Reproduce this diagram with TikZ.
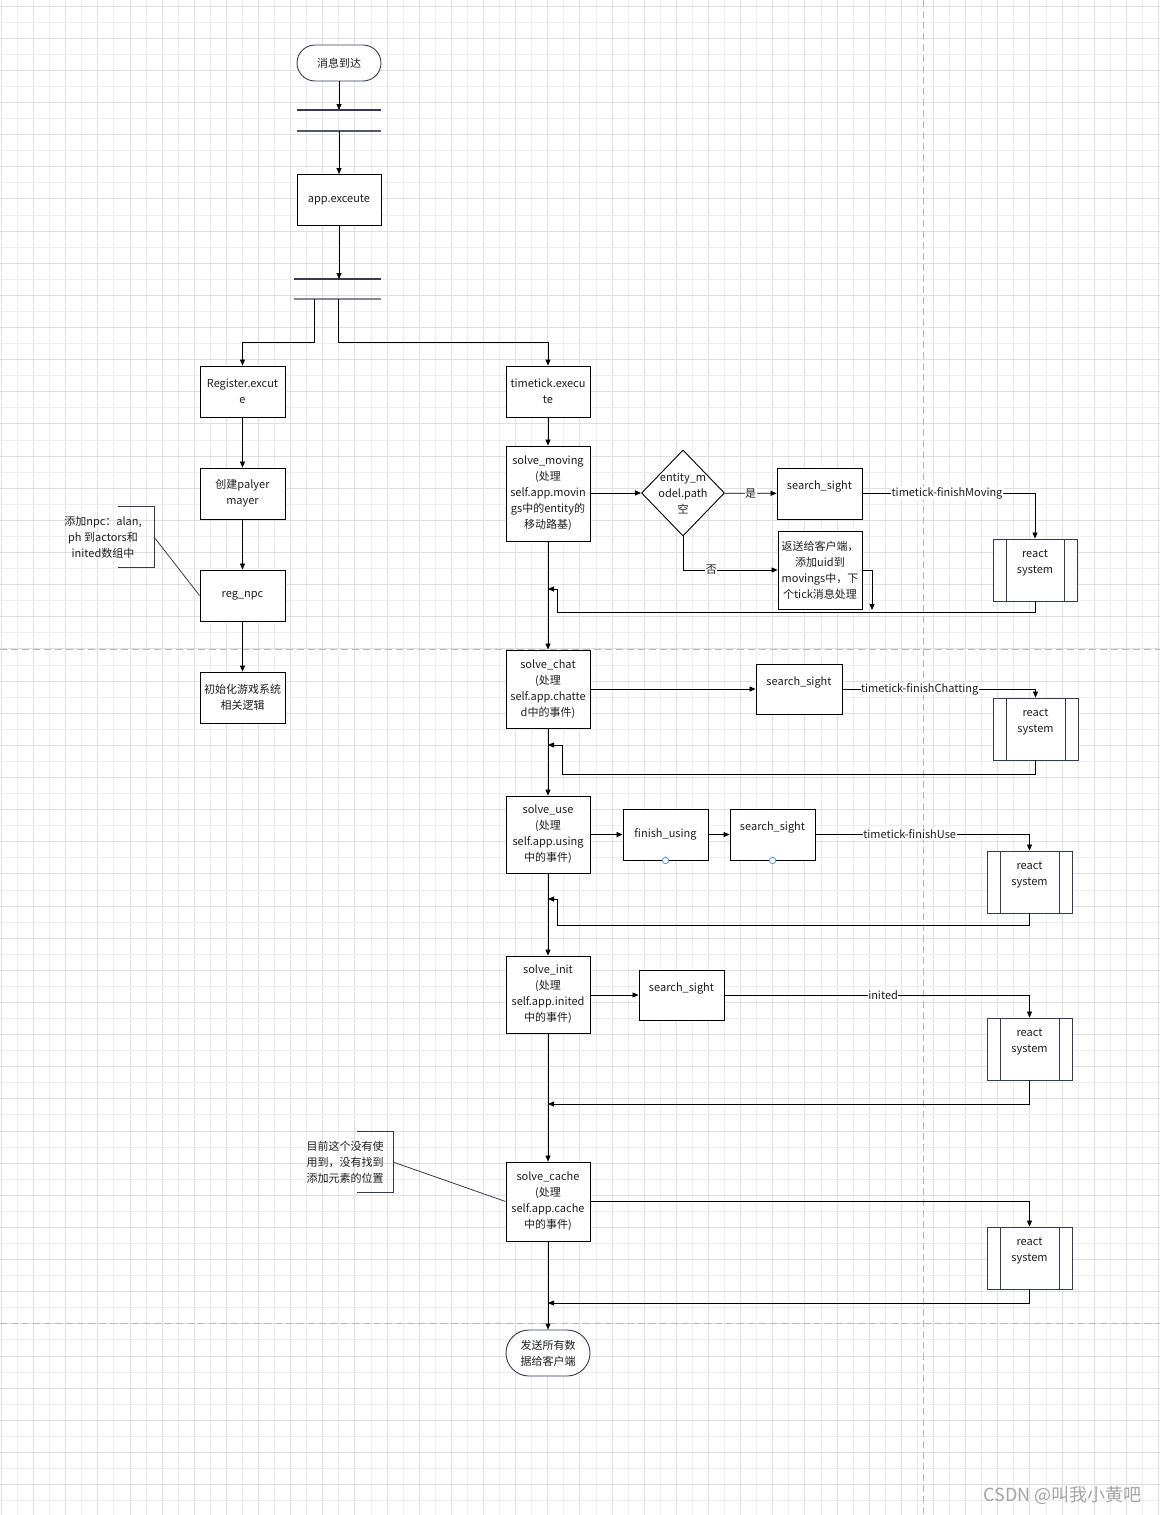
\documentclass[tikz,border=0pt]{standalone}
\usepackage{fontspec}
\setmainfont{Noto Sans CJK SC}
\usetikzlibrary{positioning,arrows.meta,shapes.geometric}
\definecolor{flownavy}{RGB}{52,58,86}
\definecolor{flowtext}{RGB}{30,30,30}
\definecolor{flowgridmajor}{RGB}{224,224,224}
\definecolor{flowgridminor}{RGB}{238,238,238}
\definecolor{flowdash}{RGB}{185,185,185}
\definecolor{flowpin}{RGB}{100,155,215}
\definecolor{flowmark}{RGB}{165,165,165}

\begin{document}
\begin{tikzpicture}[x=1pt,y=-1pt,
  font=\fontsize{11}{16}\selectfont,text=flowtext,
  procbox/.style={draw=black,line width=0.9pt,fill=white,minimum width=85pt,minimum height=51pt,align=center,inner sep=1pt},
  termbox/.style={draw=flownavy,line width=0.9pt,fill=white,minimum width=84pt,align=center,inner sep=1pt},
  decision/.style={diamond,draw=black,line width=0.9pt,fill=white,minimum width=83pt,minimum height=86pt,inner sep=0pt},
  reactbox/.style={draw=flownavy,line width=0.9pt,fill=white,minimum width=85pt,minimum height=62pt,align=center,inner sep=1pt,
    path picture={\draw[flownavy,line width=0.9pt]
      ([xshift=13pt]path picture bounding box.north west) -- ([xshift=13pt]path picture bounding box.south west)
      ([xshift=-13pt]path picture bounding box.north east) -- ([xshift=-13pt]path picture bounding box.south east);}},
  flowarrow/.style={draw=black,line width=0.8pt,-{Triangle[length=6pt,width=5pt]}},
  flowline/.style={draw=black,line width=0.8pt},
  noteline/.style={draw=flownavy,line width=1pt},
  barline/.style={draw=flownavy,line width=1.5pt},
  edgetext/.style={fill=white,inner sep=0.5pt},
  portdot/.style={circle,draw=flowpin,fill=white,line width=0.9pt,minimum size=6.5pt,inner sep=0pt},
  gridmajor/.style={draw=flowgridmajor,line width=0.7pt},
  gridminor/.style={draw=flowgridminor,line width=0.7pt},
  pagebreak/.style={draw=flowdash,line width=1pt,dash pattern=on 7pt off 4pt}
]
% canvas and grid
\fill[white] (0,0) rectangle (1160,1515);
\useasboundingbox (0,0) rectangle (1160,1515);
\foreach \i in {0,...,36} {
  \draw[gridminor] ({17.37+32.14*\i},0) -- ({17.37+32.14*\i},1515);
  \draw[gridmajor] ({1.3+32.14*\i},0) -- ({1.3+32.14*\i},1515);
}
\foreach \i in {0,...,47} {
  \draw[gridminor] (0,{22.07+32.14*\i}) -- (1160,{22.07+32.14*\i});
  \draw[gridmajor] (0,{6+32.14*\i}) -- (1160,{6+32.14*\i});
}
% page breaks
\draw[pagebreak] (923,0) -- (923,1515);
\draw[pagebreak] (0,649) -- (1160,649);
\draw[pagebreak] (0,1323) -- (1160,1323);

% top: start, bars, app
\node[termbox,minimum height=36pt,rounded corners=18pt] (start) at (339,63) {消息到达};
\coordinate (bar1a) at (339,110);
\coordinate (bar1b) at (339,131);
\draw[barline] ([xshift=-42pt]bar1a) -- ([xshift=42pt]bar1a);
\draw[barline,draw=flownavy!85] ([xshift=-42pt]bar1b) -- ([xshift=42pt]bar1b);
\node[procbox,minimum width=84pt] (app) at (339,200) {app.exceute};
\coordinate (bar2a) at (337.5,279);
\coordinate (bar2b) at (337.5,299);
\draw[barline] ([xshift=-43.5pt]bar2a) -- ([xshift=43.5pt]bar2a);
\draw[barline,draw=flownavy!60] ([xshift=-43.5pt]bar2b) -- ([xshift=43.5pt]bar2b);
\coordinate (fork1) at (314,299);
\coordinate (fork2) at (338,299);
\draw[flowarrow] (start) -- (bar1a);
\draw[flowarrow] (bar1b) -- (app);
\draw[flowarrow] (app) -- (app |- bar2a);

% left branch
\node[procbox] (register) at (242.5,391.5) {Register.excut\\e};
\node[procbox] (player) at (242.5,493.5) {创建palyer\\mayer};
\node[procbox] (regnpc) at (242.5,595.5) {reg\_npc};
\node[procbox] (initsys) at (242.5,697.5) {初始化游戏系统\\相关逻辑};
\draw[flowarrow] (fork1) -- ++(0,43) -| (register.north);
\draw[flowarrow] (register) -- (player);
\draw[flowarrow] (player) -- (regnpc);
\draw[flowarrow] (regnpc) -- (initsys);
% note on reg_npc
\node[align=center] (note1) at (103,537) {添加npc：alan,\\ph 到actors和\\inited数组中};
\coordinate (note1tip) at (154,537);
\draw[noteline] (118,506) -- (154,506) -- (154,567) -- (118,567);
\draw[noteline,line width=0.8pt] (note1tip) -- (regnpc.west);

% right branch: main column
\node[procbox,minimum width=84pt] (timetick) at (548,391.5) {timetick.execu\\te};
\node[procbox,minimum width=84pt,minimum height=95pt] (moving) at (548,493.5) {solve\_moving\\(处理\\self.app.movin\\gs中的entity的\\移动路基)};
\node[procbox,minimum width=84pt,minimum height=78pt] (chat) at (548,689) {solve\_chat\\(处理\\self.app.chatte\\d中的事件)};
\node[procbox,minimum width=84pt,minimum height=77pt] (use) at (548,834.5) {solve\_use\\(处理\\self.app.using\\中的事件)};
\node[procbox,minimum width=84pt,minimum height=77pt] (init) at (548,994.5) {solve\_init\\(处理\\self.app.inited\\中的事件)};
\node[procbox,minimum width=84pt,minimum height=79pt] (cache) at (548,1201.5) {solve\_cache\\(处理\\self.app.cache\\中的事件)};
\node[termbox,minimum height=46pt,rounded corners=23pt] (finish) at (548,1353) {发送所有数\\据给客户端};
\draw[flowarrow] (fork2) -- ++(0,43) -| (timetick.north);
\draw[flowarrow] (timetick) -- (moving);
\draw[flowarrow] (moving) -- (chat);
\draw[flowarrow] (chat) -- (use);
\draw[flowarrow] (use) -- (init);
\draw[flowarrow] (init) -- (cache);
\draw[flowarrow] (cache) -- (finish);

% solve_moving row
\node[decision] (judge) at (683,493) {\makebox[0pt]{\smash{\raisebox{-4pt}{\begin{tabular}{@{}c@{}}entity\_m\\odel.path\\空\end{tabular}}}}};
\node[procbox] (sight1) at (819.5,493.5) {search\_sight\\\mbox{}};
\node[procbox,minimum width=84pt,minimum height=78pt] (resend) at (820,570) {返送给客户端，\\添加uid到\\movings中，下\\个tick消息处理};
\node[reactbox,minimum width=84pt] (react1) at (1035,570) {react\\system\\\mbox{}};
\draw[flowarrow] (moving.east |- judge) -- (judge);
\draw[flowarrow] (judge) -- node[edgetext] {是} (sight1);
\draw[flowarrow] (judge.south) |- node[edgetext,pos=0.65] {否} (resend.west);
\draw[flowarrow] (sight1.east) -| node[edgetext,pos=0.245] {timetick-finishMoving} (react1.north);
\coordinate (drop1) at (872,610);
\coordinate (back1) at (548,589);
\draw[flowarrow] (resend.east) -| (drop1);
\draw[flowarrow] (react1.south) |- (557,612) |- (back1);

% solve_chat row
\node[procbox,minimum width=86pt,minimum height=50pt] (sight2) at (799,689) {search\_sight\\\mbox{}};
\node[reactbox] (react2) at (1035.5,729) {react\\system\\\mbox{}};
\coordinate (back2) at (548,745);
\draw[flowarrow] (chat) -- (sight2);
\draw[flowarrow] (sight2.east) -| node[edgetext,pos=0.2] {timetick-finishChatting} (react2.north);
\draw[flowarrow] (react2.south) |- (562,774) |- (back2);

% solve_use row
\node[procbox] (usingbox) at (665.5,834.5) {finish\_using};
\node[procbox] (sight3) at (772.5,834.5) {search\_sight\\\mbox{}};
\node[reactbox] (react3) at (1029.5,882) {react\\system\\\mbox{}};
\node[portdot] (dotA) at (usingbox.south) {};
\node[portdot] (dotB) at (sight3.south) {};
\coordinate (back3) at (548,899);
\draw[flowarrow] (use) -- (usingbox);
\draw[flowarrow] (usingbox) -- (sight3);
\draw[flowarrow] (sight3.east) -| node[edgetext,pos=0.22] {timetick-finishUse} (react3.north);
\draw[flowarrow] (react3.south) |- (557,925) |- (back3);

% solve_init row
\node[procbox,minimum height=50pt] (sight4) at (681.5,995) {search\_sight\\\mbox{}};
\node[reactbox] (react4) at (1029.5,1049) {react\\system\\\mbox{}};
\coordinate (back4) at (548,1104);
\draw[flowarrow] (init.east |- sight4) -- (sight4);
\draw[flowarrow] (sight4.east) -| node[edgetext,pos=0.26] {inited} (react4.north);
\draw[flowarrow] (react4.south) |- (back4);

% solve_cache row
\node[reactbox] (react5) at (1029.5,1258) {react\\system\\\mbox{}};
\coordinate (back5) at (548,1303);
\draw[flowarrow] (cache.east) -| (react5.north);
\draw[flowarrow] (react5.south) |- (back5);
% note on solve_cache
\node[align=center] (note2) at (345,1162) {目前这个没有使\\用到，没有找到\\添加元素的位置};
\coordinate (note2tip) at (393,1162);
\draw[noteline] (357,1131) -- (393,1131) -- (393,1192) -- (357,1192);
\draw[noteline,line width=0.8pt] (note2tip) -- (cache.west);

% watermark
\node[text=flowmark,font=\fontsize{18}{20}\selectfont,anchor=east] (mark) at (1145,1495) {CSDN @叫我小黄吧};
\end{tikzpicture}
\end{document}
